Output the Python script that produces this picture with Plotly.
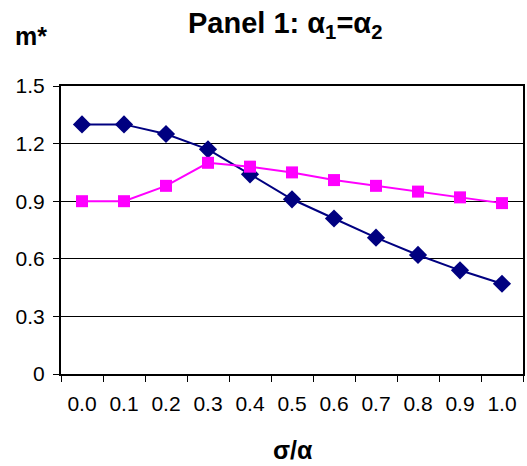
import plotly.graph_objects as go

categories = ["0.0", "0.1", "0.2", "0.3", "0.4", "0.5", "0.6", "0.7", "0.8", "0.9", "1.0"]
series_diamond = [1.30, 1.30, 1.25, 1.17, 1.04, 0.91, 0.81, 0.71, 0.62, 0.54, 0.47]
series_square = [0.90, 0.90, 0.98, 1.10, 1.08, 1.05, 1.01, 0.98, 0.95, 0.92, 0.89]
y_tickvals = [0, 0.3, 0.6, 0.9, 1.2, 1.5]
y_ticktext = ["0", "0.3", "0.6", "0.9", "1.2", "1.5"]

W, H = 527, 466
L, R, T, B = 61, 4, 86, 92
pw, ph = W - L - R, H - T - B

def px_x(x):
    return (x - L) / pw

def px_y(y):
    return 1 + (T - y) / ph

fig = go.Figure()
fig.add_trace(go.Scatter(
    x=categories, y=series_diamond, mode="lines+markers",
    line=dict(color="#000080", width=2),
    marker=dict(symbol="diamond", size=14, color="#000080"),
    showlegend=False,
))
fig.add_trace(go.Scatter(
    x=categories, y=series_square, mode="lines+markers",
    line=dict(color="#FF00FF", width=2),
    marker=dict(symbol="square", size=12, color="#FF00FF"),
    showlegend=False,
))

fig.update_layout(
    template="none",
    width=W, height=H,
    margin=dict(l=L, r=R, t=T, b=B, pad=0),
    paper_bgcolor="white", plot_bgcolor="white",
    font=dict(family="Arial, Liberation Sans, sans-serif", color="black", size=20),
    xaxis=dict(
        type="category", tickson="boundaries", ticks="outside", ticklen=6,
        tickcolor="black", tickwidth=1, showline=True, linecolor="black", linewidth=2,
        mirror=True, showgrid=False, tickfont=dict(size=21),
        ticklabelstandoff=10, automargin=False,
        range=[-0.5, len(categories) - 0.5],
    ),
    yaxis=dict(
        range=[0, 1.5], tickvals=y_tickvals, ticktext=y_ticktext,
        ticks="outside", ticklen=6, tickcolor="black", tickwidth=1,
        showline=True, linecolor="black", linewidth=2, mirror=True,
        showgrid=True, gridcolor="black", gridwidth=1,
        zeroline=False, tickfont=dict(size=21), automargin=False,
        ticklabelstandoff=4,
    ),
    annotations=[
        dict(text="<b>Panel 1: α<sub>1</sub>=α<sub>2</sub></b>", x=px_x(285), y=px_y(25),
             xref="paper", yref="paper", xanchor="center", yanchor="middle",
             showarrow=False, font=dict(size=29)),
        dict(text="<b>m*</b>", x=px_x(31), y=px_y(36),
             xref="paper", yref="paper", xanchor="center", yanchor="middle",
             showarrow=False, font=dict(size=25)),
        dict(text="<b>σ/α</b>", x=px_x(293), y=px_y(450),
             xref="paper", yref="paper", xanchor="center", yanchor="middle",
             showarrow=False, font=dict(size=25)),
    ],
)

fig.write_html(
    "out.html",
    config={"displayModeBar": False},
    post_script="document.body.style.margin='0';document.body.style.overflow='hidden';",
)
